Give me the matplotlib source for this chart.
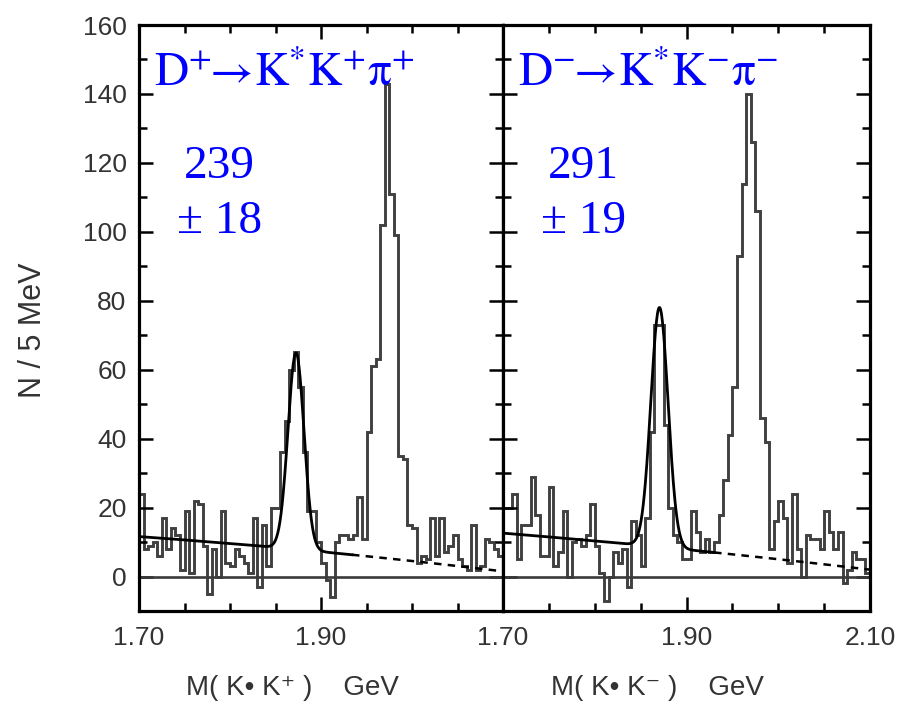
import matplotlib
matplotlib.use("Agg")
import matplotlib.pyplot as plt
import numpy as np
from matplotlib.ticker import MultipleLocator

plt.rcParams['mathtext.fontset'] = 'stix'

# histogram contents, 5 MeV bins from 1.70 to 2.10 GeV
bin_start = 1.70
bin_width = 0.005
left_counts = [24, 8, 9, 10, 6, 17, 8, 14, 12, 2,
               19, 1, 22, 21, 9, -5, 8, 0, 19, 4,
               3, 8, 6, 4, 1, 17, -3, 15, 3, 20,
               20, 36, 45, 60, 65, 55, 36, 19, 19, 10,
               4, -1, -6, 10, 12, 12, 11, 12, 23, 11,
               42, 61, 63, 102, 143, 111, 99, 35, 34, 15,
               14, 4, 6, 5, 17, 6, 17, 7, 9, 12,
               5, 3, 2, 15, 2, 3, 11, 10, 8, 6]
right_counts = [20, 20, 24, 5, 15, 15, 29, 18, 6, 6,
                26, 3, 7, 19, 0, 10, 11, 9, 12, 21,
                9, 1, -7, 0, 7, 4, 8, -3, 16, 12,
                3, 17, 42, 73, 73, 44, 20, 12, 10, 5,
                5, 19, 13, 7, 11, 7, 10, 18, 28, 41,
                55, 93, 114, 140, 126, 106, 46, 39, 8, 16,
                22, 17, 4, 24, 8, 0, 12, 11, 11, 8,
                19, 13, 8, 13, -2, 2, 7, 5, 5, 1]

# fit: gaussian (amp, mean, sigma) on quadratic background (c0, c1, c2 in m-1.70)
left_fit = dict(amp=57.0, mean=1.8725, sigma=0.0088, bg=(11.6, -18.75, -16.25), solid_end=1.934)
right_fit = dict(amp=69.5, mean=1.8705, sigma=0.0094, bg=(12.6, -21.5, -12.5), solid_end=1.930)

titles = [r'$\mathrm{D^{+}\!\!\rightarrow\! K^{*}K^{+}\pi^{+}}$',
          r'$\mathrm{D^{-}\!\!\rightarrow\! K^{*}K^{-}\pi^{-}}$']
yields = ['239\n\u00b1 18', '291\n\u00b1 19']
xlabels = ['M( K\u2022 K\u207a )    GeV', 'M( K\u2022 K\u207b )    GeV']

fig = plt.figure(figsize=(9.08, 7.17), dpi=100)
ax_l = fig.add_axes([0.1531, 0.1478, 0.4009, 0.8173])
ax_r = fig.add_axes([0.554, 0.1478, 0.4042, 0.8173])

edges = bin_start + bin_width * np.arange(len(left_counts) + 1)
sans = ['Liberation Sans', 'DejaVu Sans']


def bg(m, c):
    t = m - 1.70
    return c[0] + c[1] * t + c[2] * t ** 2


for i, (ax, counts, fit) in enumerate([(ax_l, left_counts, left_fit),
                                       (ax_r, right_counts, right_fit)]):
    ax.stairs(counts, edges, color='#404040', lw=2.1)
    ax.axhline(0, color='#3a3a3a', lw=1.9)

    m = np.linspace(1.70, fit['solid_end'], 400)
    y = bg(m, fit['bg']) + fit['amp'] * np.exp(-0.5 * ((m - fit['mean']) / fit['sigma']) ** 2)
    ax.plot(m, y, color='black', lw=2.0)
    md = np.linspace(fit['solid_end'], 2.10, 100)
    ax.plot(md, bg(md, fit['bg']), color='black', lw=1.8, ls=(0, (3, 2.5)))

    ax.set_xlim(1.70, 2.10)
    ax.set_ylim(-10, 160)
    ax.yaxis.set_major_locator(MultipleLocator(20))
    ax.yaxis.set_minor_locator(MultipleLocator(10))
    ax.xaxis.set_minor_locator(MultipleLocator(0.05))
    ax.tick_params(which='both', direction='in', top=True, right=True, colors='black',
                   labelcolor='#333333', labelsize=19, width=1.8)
    ax.tick_params(which='major', length=10)
    ax.tick_params(which='minor', length=6)
    ax.tick_params(axis='x', pad=11)
    ax.tick_params(axis='y', pad=9)
    for sp in ax.spines.values():
        sp.set_linewidth(2.3)
    for lab in ax.get_xticklabels() + ax.get_yticklabels():
        lab.set_family(sans)

    ax.text(0.04, 0.955, titles[i], transform=ax.transAxes, color='#0000ff',
            fontsize=34, va='top', ha='left')
    ax.text(0.22, 0.795, yields[i], transform=ax.transAxes, color='#0000ff',
            fontsize=34, va='top', ha='center', family=['Liberation Serif', 'DejaVu Serif'],
            linespacing=1.38)

ax_l.set_xticks([1.70, 1.90])
ax_l.set_xticklabels(['1.70', '1.90'], family=sans)
ax_r.set_xticks([1.70, 1.90, 2.10])
ax_r.set_xticklabels(['1.70', '1.90', '2.10'], family=sans)
ax_r.tick_params(labelleft=False)
ax_l.set_yticks(np.arange(0, 161, 20))
ax_l.set_yticklabels([str(v) for v in range(0, 161, 20)], family=sans)

fig.text(0.036, 0.54, 'N / 5 MeV', rotation=90, ha='center', va='center',
         fontsize=22, color='#333333', family=sans)
fig.text(0.322, 0.04, xlabels[0], ha='center', va='center', fontsize=20,
         color='#333333', family=sans)
fig.text(0.724, 0.04, xlabels[1], ha='center', va='center', fontsize=20,
         color='#333333', family=sans)

fig.savefig('out.png', dpi=100)
